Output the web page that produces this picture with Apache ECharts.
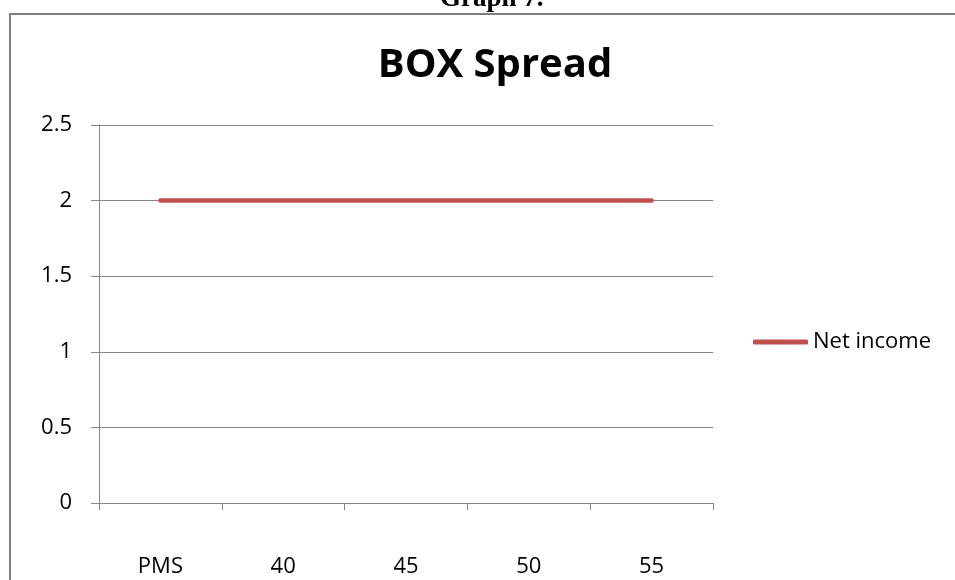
<!DOCTYPE html>
<html>
<head>
<meta charset="utf-8">
<title>BOX Spread</title>
<script src="https://cdn.jsdelivr.net/npm/echarts@6/dist/echarts.min.js"></script>
<style>
  html, body { margin: 0; padding: 0; background: #ffffff; }
  #chart { width: 955px; height: 580px; }
</style>
</head>
<body>
<div id="chart"></div>
<script>
// Strike prices along the x axis and the net income at each one
const categories = ['PMS', '40', '45', '50', '55'];
const netIncome = [2, 2, 2, 2, 2];
const yTicks = { min: 0, max: 2.5, interval: 0.5 };

const chart = echarts.init(document.getElementById('chart'));
const axisGray = '#868686';
const labelFont = '"Open Sans", "Noto Sans", sans-serif';

chart.setOption({
  animation: false,
  backgroundColor: '#ffffff',
  title: {
    text: 'BOX Spread',
    left: 490,
    top: 41,
    textAlign: 'center',
    textStyle: {
      fontFamily: labelFont,
      fontWeight: 'bold',
      fontSize: 40,
      color: '#000000'
    }
  },
  graphic: [
    {
      type: 'text',
      left: 440,
      top: -14,
      style: {
        text: 'Graph 7.',
        font: 'bold 27px "Liberation Serif", "DejaVu Serif", serif',
        fill: '#000000'
      }
    },
    {
      type: 'polyline',
      shape: { points: [[10, 590], [10, 14], [960, 14]] },
      style: { stroke: '#808080', lineWidth: 2, fill: null }
    }
  ],
  legend: {
    left: 753,
    top: 331,
    padding: 0,
    orient: 'vertical',
    icon: 'roundRect',
    itemWidth: 55,
    itemHeight: 5,
    textStyle: {
      fontFamily: labelFont,
      fontSize: 22,
      color: '#000000'
    },
    data: ['Net income']
  },
  grid: {
    left: 99,
    right: 242,
    top: 125,
    bottom: 77,
    containLabel: false
  },
  xAxis: {
    type: 'category',
    data: categories,
    boundaryGap: true,
    axisLine: { show: true, lineStyle: { color: axisGray, width: 1 } },
    axisTick: { show: true, length: 7, alignWithLabel: false, lineStyle: { color: axisGray } },
    axisLabel: {
      margin: 53,
      fontFamily: labelFont,
      fontSize: 22,
      color: '#000000'
    },
    splitLine: { show: false }
  },
  yAxis: {
    type: 'value',
    min: yTicks.min,
    max: yTicks.max,
    interval: yTicks.interval,
    axisLine: { show: true, lineStyle: { color: axisGray, width: 1 } },
    axisTick: { show: true, length: 8, lineStyle: { color: axisGray } },
    axisLabel: {
      margin: 27,
      fontFamily: labelFont,
      fontSize: 22,
      color: '#000000'
    },
    splitLine: { show: true, lineStyle: { color: axisGray, width: 1 } }
  },
  series: [
    {
      name: 'Net income',
      type: 'line',
      data: netIncome,
      symbol: 'none',
      color: '#C0504D',
      lineStyle: { color: '#C0504D', width: 4.5, cap: 'round' }
    }
  ]
});
</script>
</body>
</html>
